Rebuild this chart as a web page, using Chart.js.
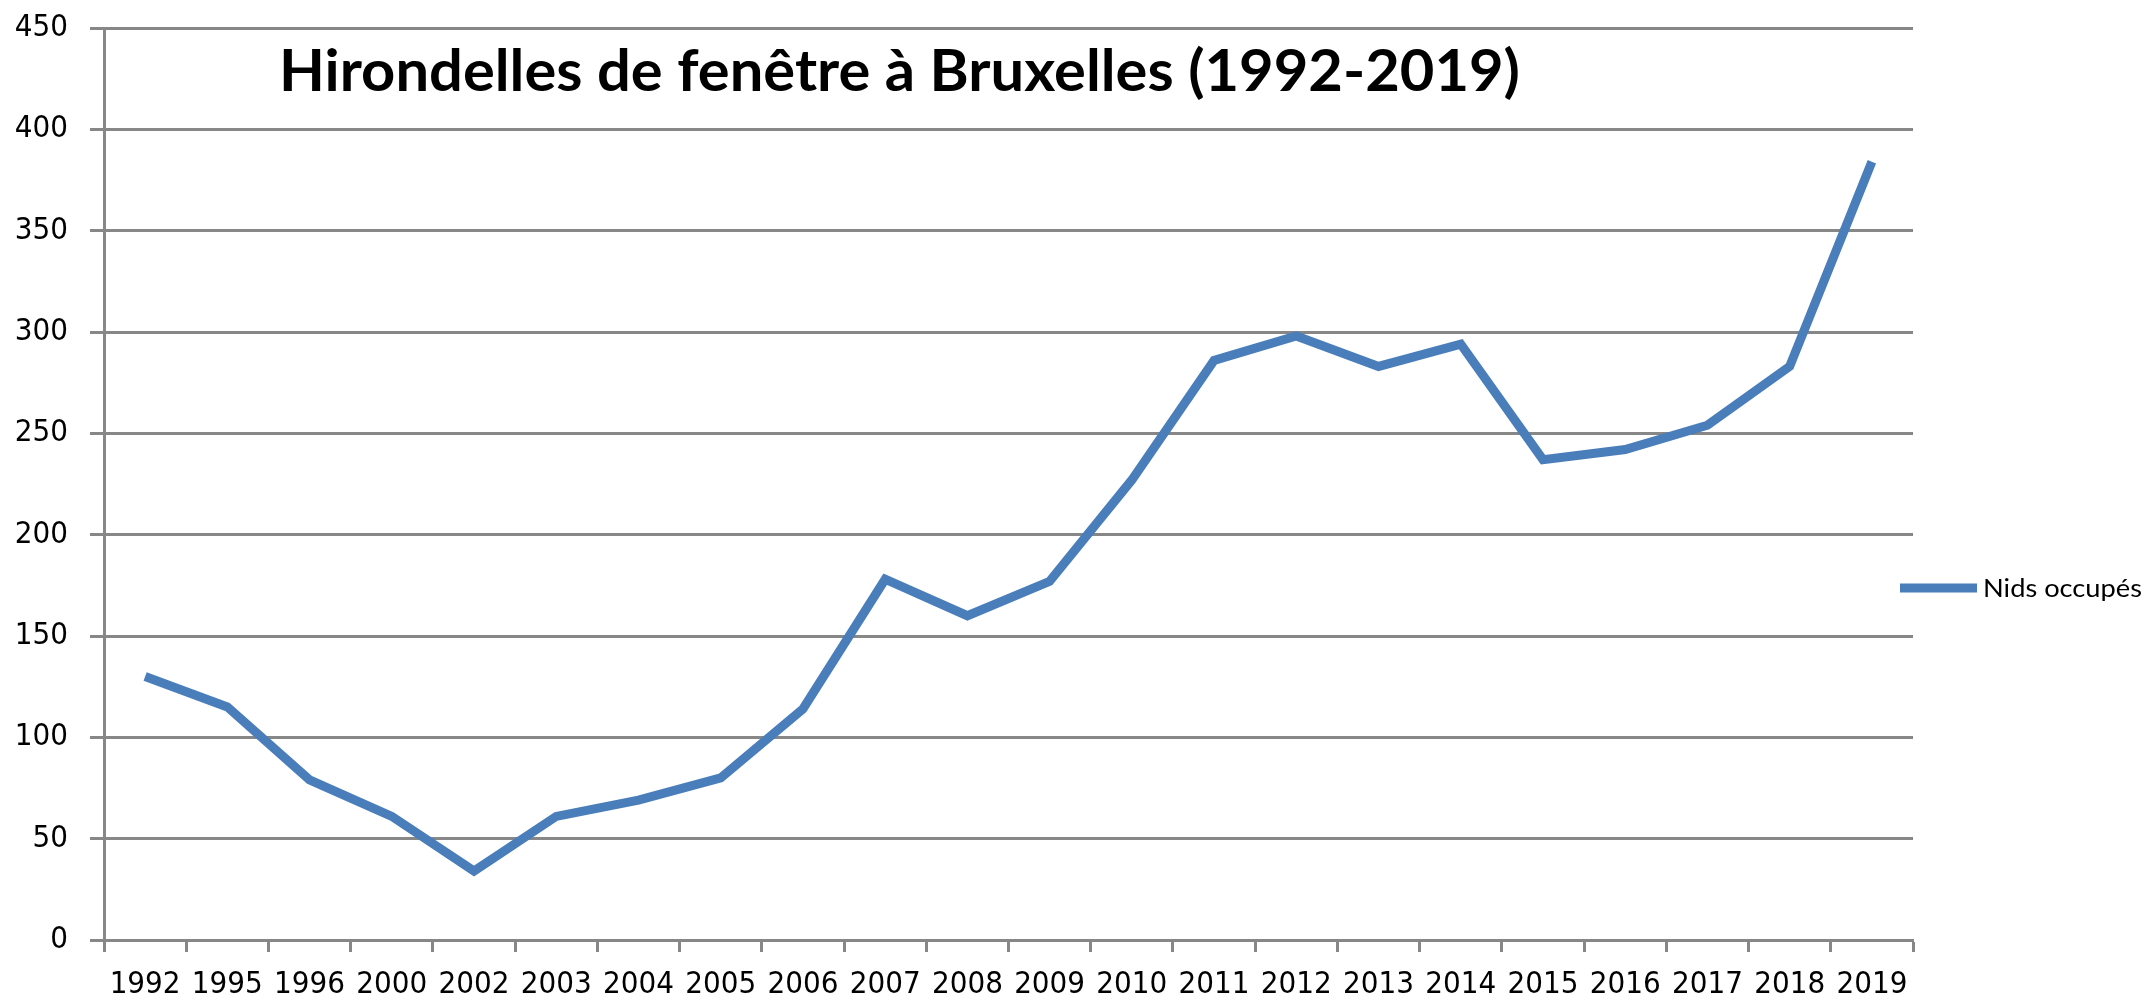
<!DOCTYPE html>
<html>
<head>
<meta charset="utf-8">
<script src="https://cdn.jsdelivr.net/npm/chart.js"></script>
<style>
  html, body { margin: 0; padding: 0; background: #fff; }
  #wrap { width: 2146px; height: 1004px; position: relative; }
</style>
</head>
<body>
<div id="wrap"><canvas id="grafico"></canvas></div>
<script>
const annees = ['1992', '1995', '1996', '2000', '2002', '2003', '2004', '2005', '2006', '2007', '2008',
                '2009', '2010', '2011', '2012', '2013', '2014', '2015', '2016', '2017', '2018', '2019'];
const nidsOccupes = [130, 115, 79, 61, 34, 61, 69, 80, 114, 178, 160,
                     177, 227, 286, 298, 283, 294, 237, 242, 254, 283, 384];
const titre = 'Hirondelles de fenêtre à Bruxelles (1992-2019)';
const nomSerie = 'Nids occupés';
const yMin = 0;
const yMax = 450;
const yPas = 50;

const policeAxes = '"DejaVu Sans Condensed", "Liberation Sans", sans-serif';
const policeTexte = 'Lato, "Open Sans", sans-serif';
const gris = '#878787';
const bleu = '#4A7EBB';

// texte serré horizontalement pour tenir dans la largeur voulue (police type Calibri)
function texteAjuste(ctx, txt, font, xGauche, yBase, largeur) {
    ctx.font = font;
    const w = ctx.measureText(txt).width;
    ctx.save();
    ctx.translate(xGauche, yBase);
    ctx.scale(largeur / w, 1);
    ctx.textAlign = 'left';
    ctx.textBaseline = 'alphabetic';
    ctx.fillText(txt, 0, 0);
    ctx.restore();
}

// titre et légende dessinés à la main (ils chevauchent la zone du graphique)
const decor = {
    id: 'decor',
    afterDraw(chart) {
        const ctx = chart.ctx;
        const area = chart.chartArea;
        ctx.save();
        ctx.fillStyle = '#000';
        texteAjuste(ctx, titre, 'bold 58px ' + policeTexte, 279, 91, 1241);

        const ds = chart.data.datasets[0];
        const ly = 588;
        ctx.strokeStyle = ds.borderColor;
        ctx.lineWidth = ds.borderWidth;
        ctx.beginPath();
        ctx.moveTo(area.right - 13, ly);
        ctx.lineTo(area.right + 64, ly);
        ctx.stroke();
        texteAjuste(ctx, ds.label, '25px ' + policeTexte, area.right + 70, ly + 9, 159);
        ctx.restore();
    }
};

const ctx = document.getElementById('grafico').getContext('2d');

const graphique = new Chart(ctx, {
    type: 'line',
    data: {
        labels: annees,
        datasets: [{
            label: nomSerie,
            data: nidsOccupes,
            borderColor: bleu,
            backgroundColor: bleu,
            borderWidth: 9,
            pointRadius: 0,
            tension: 0
        }]
    },
    options: {
        responsive: true,
        maintainAspectRatio: false,
        animation: false,
        layout: {
            padding: { top: 28, right: 233, left: 0, bottom: 0 }
        },
        plugins: {
            legend: { display: false },
            title: { display: false },
            tooltip: { enabled: false }
        },
        scales: {
            x: {
                offset: true,
                grid: {
                    offset: true,
                    drawOnChartArea: false,
                    drawTicks: true,
                    tickLength: 12,
                    tickWidth: 3,
                    tickColor: gris
                },
                border: { display: true, color: gris, width: 3 },
                ticks: {
                    color: '#000',
                    font: { family: policeAxes, size: 31 },
                    padding: 14,
                    maxRotation: 0,
                    autoSkip: false
                },
                afterFit(scale) {
                    scale.height = 64;
                    scale.paddingLeft = 0;
                    scale.paddingRight = 0;
                }
            },
            y: {
                min: yMin,
                max: yMax,
                ticks: {
                    stepSize: yPas,
                    color: '#000',
                    font: { family: policeAxes, size: 31 },
                    padding: 22
                },
                grid: {
                    color: gris,
                    lineWidth: 3,
                    tickLength: 14
                },
                border: { display: true, color: gris, width: 3 },
                afterFit(scale) {
                    scale.width = 104;
                    scale.paddingTop = 0;
                    scale.paddingBottom = 0;
                }
            }
        }
    },
    plugins: [decor]
});
</script>
</body>
</html>
